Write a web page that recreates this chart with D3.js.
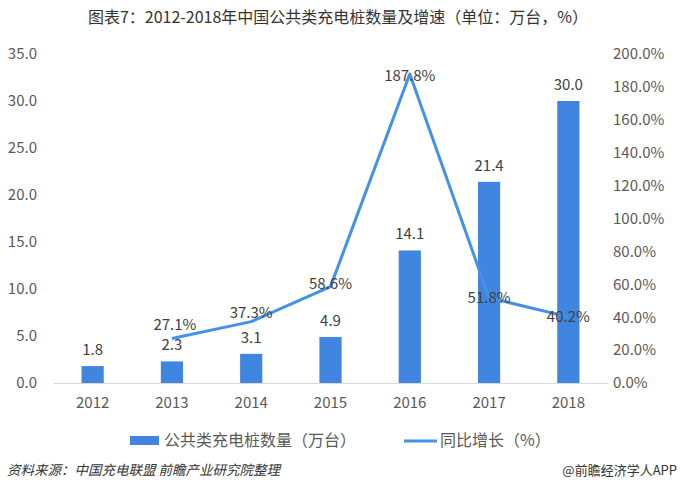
<!DOCTYPE html>
<html>
<head>
<meta charset="utf-8">
<script src="https://cdn.jsdelivr.net/npm/d3@7"></script>
<style>
  html, body { margin: 0; padding: 0; background: #fff; }
  svg { display: block; font-family: "Noto Sans CJK SC", "Noto Sans", sans-serif; }
</style>
</head>
<body>
<svg id="chart" width="680" height="490"></svg>
<script>
const years = ["2012", "2013", "2014", "2015", "2016", "2017", "2018"];
const pileCounts = [1.8, 2.3, 3.1, 4.9, 14.1, 21.4, 30.0];
const growthYears = ["2013", "2014", "2015", "2016", "2017", "2018"];
const growthRates = [27.1, 37.3, 58.6, 187.8, 51.8, 40.2];
const leftTicks = [0, 5, 10, 15, 20, 25, 30, 35];
const rightTicks = [0, 20, 40, 60, 80, 100, 120, 140, 160, 180, 200];
const titleText = "图表7：2012-2018年中国公共类充电桩数量及增速（单位：万台，%）";
const legendBar = "公共类充电桩数量（万台）";
const legendLine = "同比增长（%）";
const sourceText = "资料来源：中国充电联盟 前瞻产业研究院整理";
const brandText = "@前瞻经济学人APP";

const svg = d3.select("#chart");
const plot = { left: 53, right: 608, top: 54, bottom: 383 };
const barColor = "#4086E0";
const lineColor = "#4391EA";
const textColor = "#595959";

const x = d3.scaleBand().domain(years).range([plot.left, plot.right]).padding(0);
const yL = d3.scaleLinear().domain([0, 35]).range([plot.bottom, plot.top]);
const yR = d3.scaleLinear().domain([0, 200]).range([plot.bottom, plot.top]);

// title
svg.append("text").attr("x", 338).attr("y", 23).attr("text-anchor", "middle")
  .attr("font-size", 16).attr("fill", "#333").text(titleText);

// left axis
const axL = svg.append("g").attr("transform", `translate(${plot.left - 4},0)`)
  .call(d3.axisLeft(yL).tickValues(leftTicks).tickFormat(d3.format(".1f")).tickSize(0).tickPadding(12));
axL.select(".domain").remove();
axL.selectAll("text").attr("font-size", 15).attr("fill", textColor).attr("font-family", "\"Noto Sans CJK SC\", sans-serif");

// right axis
const axR = svg.append("g").attr("transform", `translate(${plot.right},0)`)
  .call(d3.axisRight(yR).tickValues(rightTicks).tickFormat(d => d.toFixed(1) + "%").tickSize(0).tickPadding(5));
axR.select(".domain").remove();
axR.selectAll("text").attr("font-size", 15).attr("fill", textColor).attr("font-family", "\"Noto Sans CJK SC\", sans-serif");

// bottom axis
const axB = svg.append("g").attr("transform", `translate(0,${plot.bottom})`)
  .call(d3.axisBottom(x).tickSize(0).tickPadding(14));
axB.select(".domain").attr("stroke", "#d9d9d9").attr("stroke-width", 1);
axB.selectAll("text").attr("font-size", 15).attr("fill", textColor).attr("font-family", "\"Noto Sans CJK SC\", sans-serif");

// bars
const barW = x.bandwidth() * 0.28;
svg.append("g").selectAll("rect").data(years).join("rect")
  .attr("x", (d) => x(d) + x.bandwidth() / 2 - barW / 2)
  .attr("y", (d, i) => yL(pileCounts[i]))
  .attr("width", barW)
  .attr("height", (d, i) => plot.bottom - yL(pileCounts[i]))
  .attr("fill", barColor);

// bar labels
svg.append("g").selectAll("text").data(years).join("text")
  .attr("x", (d) => x(d) + x.bandwidth() / 2)
  .attr("y", (d, i) => yL(pileCounts[i]) - 11)
  .attr("text-anchor", "middle").attr("font-size", 15).attr("fill", "#404040")
  .text((d, i) => pileCounts[i].toFixed(1));

// line
const cx = (d) => x(d) + x.bandwidth() / 2;
const line = d3.line().x((d, i) => cx(growthYears[i])).y((d) => yR(d));
svg.append("path").datum(growthRates).attr("d", line)
  .attr("fill", "none").attr("stroke", lineColor).attr("stroke-width", 3).attr("stroke-linejoin", "round");

// line labels (mostly centered on the point, first two lifted)
const lift = [13, 9, 3, -2, 0, 0];
svg.append("g").selectAll("text").data(growthRates).join("text")
  .attr("x", (d, i) => cx(growthYears[i]) + (i === 0 ? 3 : 0))
  .attr("y", (d, i) => yR(d) - lift[i] + 5)
  .attr("text-anchor", "middle").attr("font-size", 15).attr("fill", "#404040")
  .text((d) => d.toFixed(1) + "%");

// legend
const lg = svg.append("g");
lg.append("rect").attr("x", 130).attr("y", 436).attr("width", 29).attr("height", 9).attr("fill", barColor);
lg.append("text").attr("x", 164).attr("y", 446).attr("font-size", 16).attr("fill", textColor).text(legendBar);
lg.append("line").attr("x1", 404).attr("x2", 437).attr("y1", 441).attr("y2", 441)
  .attr("stroke", lineColor).attr("stroke-width", 3);
lg.append("text").attr("x", 440).attr("y", 446).attr("font-size", 16).attr("fill", textColor).text(legendLine);

// footer
svg.append("text").attr("x", 7).attr("y", 475).attr("font-size", 13.5).attr("font-style", "italic")
  .attr("fill", "#333").text(sourceText);
svg.append("text").attr("x", 677).attr("y", 475).attr("text-anchor", "end").attr("font-size", 13)
  .attr("fill", "#333").text(brandText);
</script>
</body>
</html>
